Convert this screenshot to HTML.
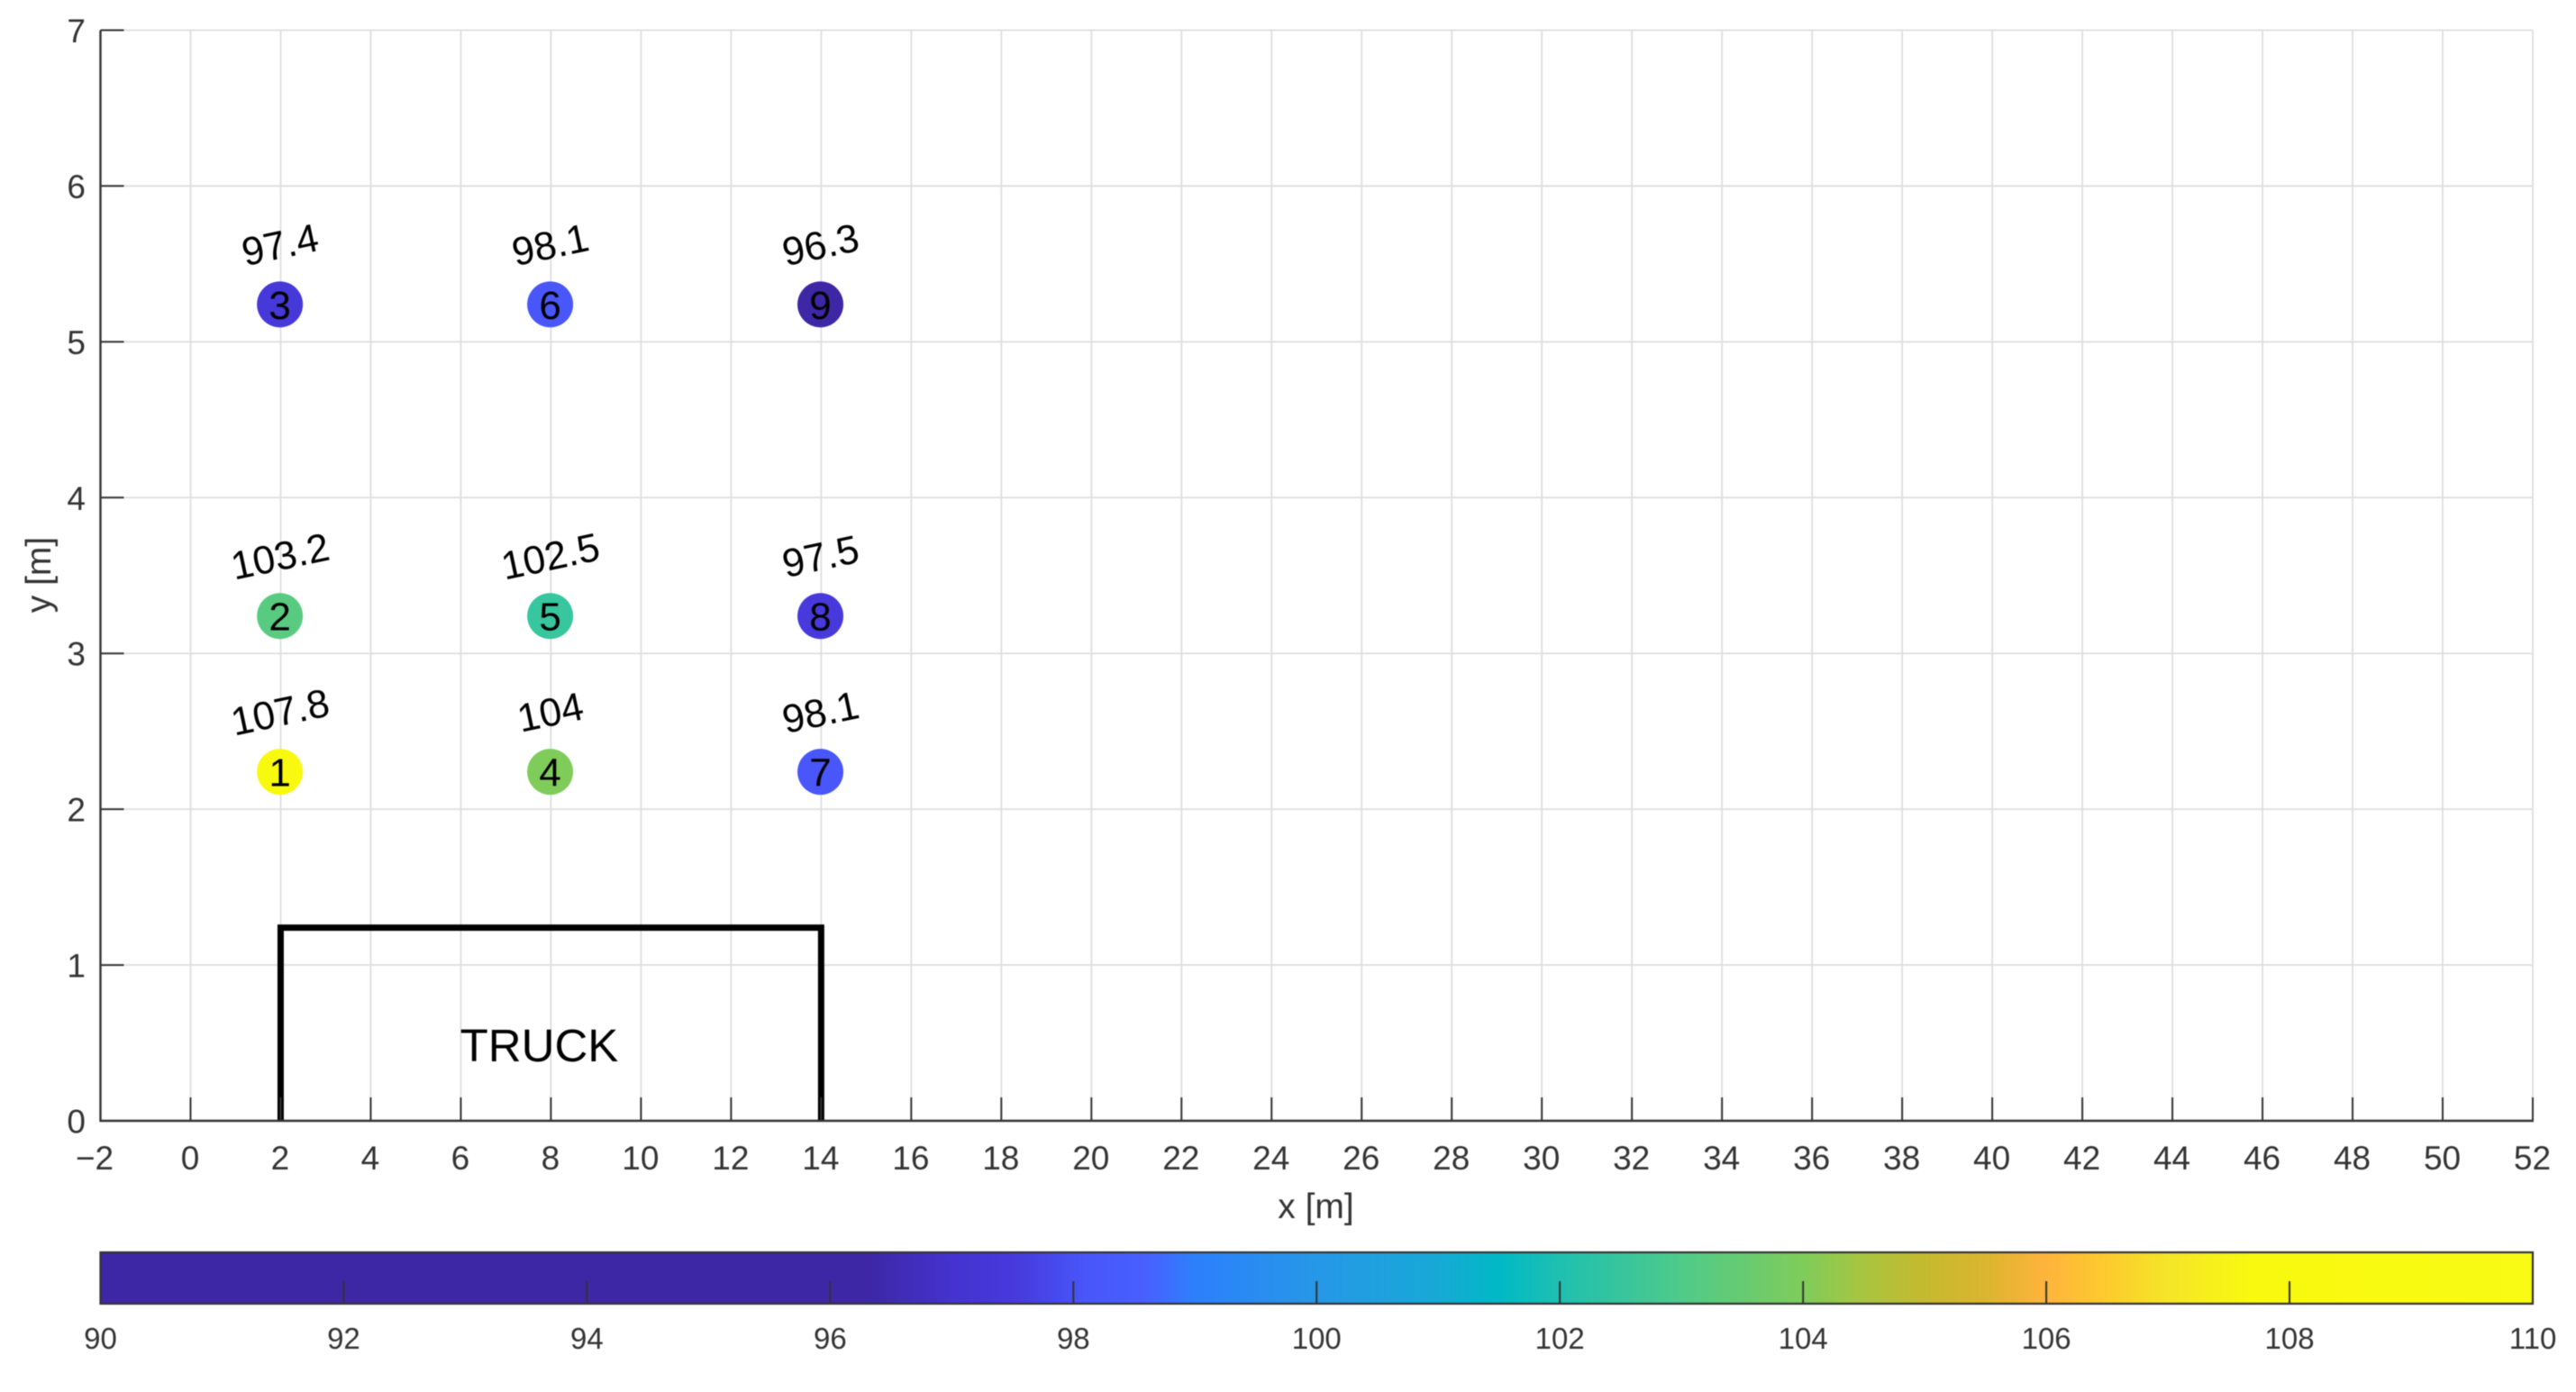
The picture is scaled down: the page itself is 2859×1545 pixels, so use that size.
<!DOCTYPE html>
<html lang="en">
<head>
<meta charset="utf-8">
<title>Sensor levels around truck</title>
<style>
  html, body { margin: 0; padding: 0; background: #fff; }
  body { width: 2859px; height: 1545px; overflow: hidden; }
  svg { display: block; filter: blur(0.6px); }
  text { font-family: "Liberation Sans", Arial, sans-serif; }
</style>
</head>
<body>
<svg id="chart" xmlns="http://www.w3.org/2000/svg" width="2859" height="1545" viewBox="0 0 2859 1545">
  <defs>
    <linearGradient id="cbar-gradient" x1="0" y1="0" x2="1" y2="0"></linearGradient>
  </defs>
</svg>
<script>
const xTicks = [-2,0,2,4,6,8,10,12,14,16,18,20,22,24,26,28,30,32,34,36,38,40,42,44,46,48,50,52];
const yTicks = [0,1,2,3,4,5,6,7];
const colorbarTicks = [90,92,94,96,98,100,102,104,106,108,110];
const sensorIds = [1,2,3,4,5,6,7,8,9];
const sensorX = [2,2,2,8,8,8,14,14,14];
const sensorY = [2.24,3.24,5.24,2.24,3.24,5.24,2.24,3.24,5.24];
const sensorLevels = [107.8,103.2,97.4,104,102.5,98.1,98.1,97.5,96.3];
const truckX = [2,2,14,14];
const truckY = [0,1.24,1.24,0];
const colormapValues = [90,96.3,97,97.5,98.1,98.6,99,100,101,101.5,102,103,104,104.5,105,105.5,106,106.5,107,107.7,110];
const colormapColors = ['#3d27a5','#3d27a5','#4433cf','#4739dc','#4856fa','#4860ff','#2d80fc','#2698e8','#17a9d6','#00b9c6','#1fc0b0','#4fcb8a','#7fcc5a','#a9c53f','#c5ba2f','#dcb52f','#ffb43c','#fdcb2e','#f5e529','#f9f90f','#f9fb15'];

const NS = 'http://www.w3.org/2000/svg';
const svg = document.getElementById('chart');
const plotLeft = 111.5, plotRight = 2811, plotTop = 33.5, plotBottom = 1244;
const cbTop = 1390, cbBottom = 1447;
const xMin = xTicks[0], xMax = xTicks[xTicks.length - 1];
const yMin = yTicks[0], yMax = yTicks[yTicks.length - 1];
const cMin = colorbarTicks[0], cMax = colorbarTicks[colorbarTicks.length - 1];

function sx(v) { return plotLeft + (v - xMin) / (xMax - xMin) * (plotRight - plotLeft); }
function sy(v) { return plotBottom - (v - yMin) / (yMax - yMin) * (plotBottom - plotTop); }
function sc(v) { return plotLeft + (v - cMin) / (cMax - cMin) * (plotRight - plotLeft); }

function hexToRgb(h) { return [1, 3, 5].map(i => parseInt(h.slice(i, i + 2), 16)); }
function colorFor(v) {
  if (v <= colormapValues[0]) return colormapColors[0];
  for (let i = 1; i < colormapValues.length; i++) {
    if (v <= colormapValues[i]) {
      const t = (v - colormapValues[i - 1]) / (colormapValues[i] - colormapValues[i - 1]);
      const a = hexToRgb(colormapColors[i - 1]), b = hexToRgb(colormapColors[i]);
      return 'rgb(' + a.map((c, k) => Math.round(c + (b[k] - c) * t)).join(',') + ')';
    }
  }
  return colormapColors[colormapColors.length - 1];
}

function mk(tag, attrs, parent) {
  const el = document.createElementNS(NS, tag);
  for (const k in attrs) el.setAttribute(k, attrs[k]);
  (parent || svg).appendChild(el);
  return el;
}
function fmtTick(v) { return v < 0 ? '\u2212' + Math.abs(v) : String(v); }

/* gridlines */
const gridLayer = mk('g', {});


xTicks.forEach(t => {
  const l = mk('line', { x1: sx(t), x2: sx(t), y1: plotTop, y2: plotBottom, stroke: '#dedede', 'stroke-width': 1.8 }, gridLayer);
  
  
});
yTicks.forEach(t => {
  const l = mk('line', { x1: plotLeft, x2: plotRight, y1: sy(t), y2: sy(t), stroke: '#dedede', 'stroke-width': 1.8 }, gridLayer);
  
  
});

/* truck */
const truck = mk('polyline', {
  points: truckX.map((x, i) => sx(x) + ',' + sy(truckY[i])).join(' '),
  fill: 'none', stroke: '#000', 'stroke-width': 7, 'stroke-linejoin': 'miter'
});


const truckLabel = mk('text', { x: 598.5, y: 1178, 'font-size': 51, 'text-anchor': 'middle', fill: '#000' });
truckLabel.textContent = 'TRUCK';



/* axes */
const axisColor = '#333333';
const xAxis = mk('line', { x1: plotLeft - 1, x2: plotRight + 1, y1: plotBottom, y2: plotBottom, stroke: axisColor, 'stroke-width': 2.4 });


const yAxis = mk('line', { x1: plotLeft, x2: plotLeft, y1: plotTop, y2: plotBottom + 1, stroke: axisColor, 'stroke-width': 2.4 });



xTicks.forEach(t => {
  const m = mk('line', { x1: sx(t), x2: sx(t), y1: plotBottom, y2: plotBottom - 26, stroke: axisColor, 'stroke-width': 2 });
  
  
  const lab = mk('text', { x: sx(t) + (t < 0 ? -6 : 0) - 0.5, y: 1298, 'font-size': 37, 'text-anchor': 'middle', fill: axisColor });
  lab.textContent = fmtTick(t);
  
  
});
yTicks.forEach(t => {
  const m = mk('line', { x1: plotLeft, x2: plotLeft + 26, y1: sy(t), y2: sy(t), stroke: axisColor, 'stroke-width': 2 });
  
  
  const lab = mk('text', { x: 95, y: sy(t) + 13.5, 'font-size': 37, 'text-anchor': 'end', fill: axisColor });
  lab.textContent = fmtTick(t);
  
  
});

const xTitle = mk('text', { x: 1460.5, y: 1352, 'font-size': 39, 'text-anchor': 'middle', fill: axisColor });
xTitle.textContent = 'x [m]';


const yTitle = mk('text', { x: 0, y: 0, 'font-size': 39, 'text-anchor': 'middle', fill: axisColor, transform: 'translate(56 638) rotate(-90)' });
yTitle.textContent = 'y [m]';



/* sensors */
sensorIds.forEach((id, i) => {
  const cx = sx(sensorX[i]) - 0.8, cy = sy(sensorY[i]);
  const dot = mk('circle', { cx: cx, cy: cy, r: 25.5, fill: colorFor(sensorLevels[i]) });
  
  
  const idLabel = mk('text', { x: cx, y: cy + 16, 'font-size': 44, 'text-anchor': 'middle', fill: '#000' });
  idLabel.textContent = String(id);
  
  
  const ly = cy - 67;
  const valLabel = mk('text', { x: cx, y: ly + 16, 'font-size': 44, 'text-anchor': 'middle', fill: '#000', transform: 'rotate(-12 ' + cx + ' ' + ly + ')' });
  valLabel.textContent = String(sensorLevels[i]);
  
  
});

/* colorbar */
const grad = document.getElementById('cbar-gradient');
colormapValues.forEach((v, i) => {
  mk('stop', { offset: ((v - cMin) / (cMax - cMin) * 100) + '%', 'stop-color': colormapColors[i] }, grad);
});
const cbar = mk('rect', { x: plotLeft, y: cbTop, width: plotRight - plotLeft, height: cbBottom - cbTop, fill: 'url(#cbar-gradient)', stroke: axisColor, 'stroke-width': 2.2 });


colorbarTicks.forEach(t => {
  const m = mk('line', { x1: sc(t), x2: sc(t), y1: cbBottom, y2: cbBottom - 25, stroke: axisColor, 'stroke-width': 2 });
  
  
  const lab = mk('text', { x: sc(t), y: 1497, 'font-size': 33, 'text-anchor': 'middle', fill: axisColor });
  lab.textContent = String(t);
  
  
});
</script>
</body>
</html>
